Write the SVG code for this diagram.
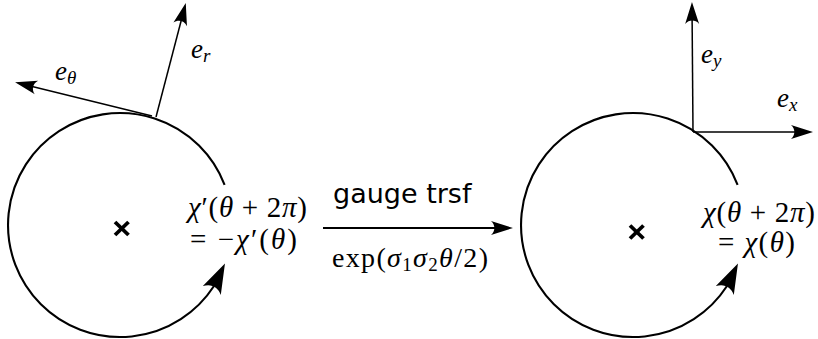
<svg xmlns="http://www.w3.org/2000/svg" width="818" height="339" viewBox="0 0 818 339">
<style>
.m{font-family:"Liberation Serif","DejaVu Serif",serif;font-size:29px;fill:#000}
.e{font-family:"Liberation Serif","DejaVu Serif",serif;font-size:27px;font-style:italic;fill:#000}
.x{font-size:28px}
.i{font-style:italic}
.sub{font-size:19px;font-style:italic}
.s{font-family:"DejaVu Sans","Liberation Sans",sans-serif;font-size:27px;fill:#000}
.circ{fill:none;stroke:#000;stroke-width:2.1;marker-end:url(#ahArc)}
.vec{fill:none;stroke:#000;stroke-width:1.5;marker-end:url(#ah)}
.cross{stroke:#000;stroke-width:3.8;stroke-linecap:butt}
</style>
<defs>
<marker id="ah" markerUnits="userSpaceOnUse" viewBox="-2 -10 30 20" markerWidth="30" markerHeight="20" refX="19" refY="0" orient="auto" overflow="visible">
<path d="M0,-7 L22,0 L0,7 C4.5,3 4.5,-3 0,-7 Z" fill="#000"/>
</marker>
<marker id="ahArc" markerUnits="userSpaceOnUse" viewBox="-2 -12 36 24" markerWidth="36" markerHeight="24" refX="5" refY="0" orient="-64" overflow="visible">
<path d="M0,-10 L30,0 L0,10 C6,4 6,-4 0,-10 Z" fill="#000"/>
</marker>
</defs>

<g id="left-loop">
<path class="circ" d="M224.6,184.9 A112,112 0 1 0 214,286"/>
<line class="cross" x1="115" y1="222" x2="128.5" y2="235"/>
<line class="cross" x1="128.5" y1="222" x2="115" y2="235"/>
<text class="m" x="188" y="217" textLength="119" lengthAdjust="spacing"><tspan class="i">χ</tspan>′(<tspan class="i">θ</tspan> + 2<tspan class="i">π</tspan>)</text>
<text class="m" x="190" y="249" textLength="107" lengthAdjust="spacing">= −<tspan class="i">χ</tspan>′(<tspan class="i">θ</tspan>)</text>
</g>

<g id="left-frame">
<line class="vec" x1="156" y1="117" x2="185" y2="6"/>
<line class="vec" x1="152" y1="116" x2="18" y2="83"/>
<text class="e" x="191" y="58">e<tspan class="sub" dy="4">r</tspan></text>
<text class="e" x="55" y="80">e<tspan class="sub" dy="4">θ</tspan></text>
</g>

<g id="right-loop">
<path class="circ" d="M737.6,184.9 A112,112 0 1 0 727,286"/>
<line class="cross" x1="630" y1="225.5" x2="643.5" y2="238.5"/>
<line class="cross" x1="643.5" y1="225.5" x2="630" y2="238.5"/>
<text class="m" x="703" y="222" textLength="112" lengthAdjust="spacing"><tspan class="i">χ</tspan>(<tspan class="i">θ</tspan> + 2<tspan class="i">π</tspan>)</text>
<text class="m" x="718" y="252" textLength="77" lengthAdjust="spacing">= <tspan class="i">χ</tspan>(<tspan class="i">θ</tspan>)</text>
</g>

<g id="right-frame">
<line class="vec" x1="693" y1="132" x2="692" y2="5"/>
<line class="vec" x1="693" y1="132" x2="810" y2="132"/>
<text class="e" x="701" y="63">e<tspan class="sub" dy="4">y</tspan></text>
<text class="e" x="777" y="107">e<tspan class="sub" dy="4">x</tspan></text>
</g>

<g id="connectors">
<line class="vec" x1="323" y1="228" x2="510" y2="228" style="stroke-width:1.8"/>
<text class="s" x="333" y="203">gauge trsf</text>
<text class="m x" x="332" y="267" textLength="156" lengthAdjust="spacing">exp(<tspan class="i">σ</tspan><tspan class="sub" style="font-style:normal" dy="4">1</tspan><tspan class="i" dy="-4">σ</tspan><tspan class="sub" style="font-style:normal" dy="4">2</tspan><tspan class="i" dy="-4">θ</tspan>/2)</text>
</g>
</svg>
